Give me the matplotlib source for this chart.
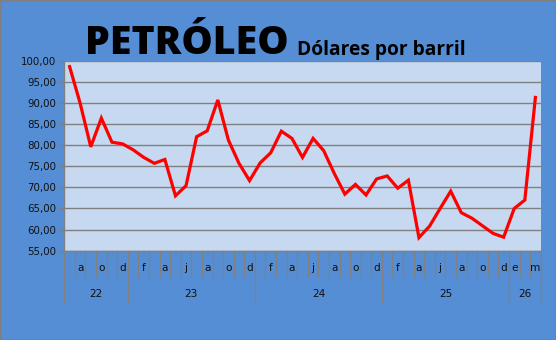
import matplotlib
matplotlib.use('AGG')
import matplotlib.pyplot as plt
from matplotlib.patches import Rectangle
from matplotlib.ticker import FuncFormatter, FixedLocator
import matplotlib.transforms as mtransforms

# Monthly values, Jul 2022 .. Mar 2026 (dollars per barrel)
prices = [98.6, 89.9, 79.6, 86.4, 80.7, 80.3,
          78.9, 77.1, 75.7, 76.6, 68.0, 70.4, 82.0, 83.4, 90.7, 81.2, 75.7, 71.6,
          75.8, 78.2, 83.3, 81.6, 77.1, 81.6, 78.7, 73.3, 68.4, 70.7, 68.2, 72.0, 72.7, 69.8,
          71.7, 58.1, 60.8, 65.0, 69.1, 64.0, 62.7, 60.9, 59.1, 58.2,
          65.0, 67.0, 91.3]

# Month letters as shown under the axis (blank = not shown)
month_labels = ['', 'a', '', 'o', '', 'd',
                '', 'f', '', 'a', '', 'j', '', 'a', '', 'o', '', 'd',
                '', 'f', '', 'a', '', 'j', '', 'a', '', 'o', '', 'd',
                '', 'f', '', 'a', '', 'j', '', 'a', '', 'o', '', 'd',
                'e', '', 'm']

years = ['22', '23', '24', '25', '26']
months_per_year = [6, 12, 12, 12, 3]

W, H = 556, 340
bg = '#558ED5'
plot_bg = '#C6D9F1'
grey = '#808080'

fig = plt.figure(figsize=(W / 100, H / 100), dpi=100, facecolor=bg)

# plot area in pixels
left, right, top, bottom = 64.3, 540.7, 60.7, 250.7
ax = fig.add_axes([left / W, (H - bottom) / H, (right - left) / W, (bottom - top) / H])
ax.set_facecolor(plot_bg)

x = list(range(len(prices)))
ax.plot(x, prices, color='#FF0000', lw=2.3, solid_joinstyle='miter', zorder=3)

ax.set_xlim(-0.5, len(prices) - 0.5)
ax.set_ylim(55, 100)
ax.set_yticks(range(55, 101, 5))
ax.yaxis.set_major_formatter(FuncFormatter(lambda v, p: f'{v:.2f}'.replace('.', ',')))
ax.grid(axis='y', color=grey, lw=1.0)
ax.set_axisbelow(True)

for s in ['top', 'right']:
    ax.spines[s].set_visible(False)
for s in ['left', 'bottom']:
    ax.spines[s].set_color(grey)
    ax.spines[s].set_linewidth(1.0)

ax.tick_params(axis='y', length=3.6, width=1.0, color=grey, labelsize=7.4,
               labelcolor='#111111', pad=2)

# month boundary ticks (short) and year boundary ticks (long)
bounds = [-0.5]
for n in months_per_year:
    bounds.append(bounds[-1] + n)
ax.xaxis.set_major_locator(FixedLocator(bounds))
ax.xaxis.set_minor_locator(FixedLocator([i - 0.5 for i in range(len(prices) + 1)]))
ax.tick_params(axis='x', which='major', length=52 * 0.72, width=1.0, color=grey,
               labelbottom=False)
ax.tick_params(axis='x', which='minor', length=26 * 0.72, width=1.0, color=grey,
               labelbottom=False)

trans = mtransforms.blended_transform_factory(ax.transData, ax.transAxes)
y_month = -(268.3 - bottom) / (bottom - top)
y_year = -(294 - bottom) / (bottom - top)
for i, lab in enumerate(month_labels):
    if lab:
        ax.text(i, y_month, lab, transform=trans, ha='center', va='center',
                fontsize=7.6, color='#111111')
for k, yr in enumerate(years):
    ax.text((bounds[k] + bounds[k + 1]) / 2, y_year, yr, transform=trans,
            ha='center', va='center', fontsize=7.6, color='#111111')

# title
fig.text(85 / W, (H - 53.5) / H, 'PETRÓLEO', fontsize=28.4, fontweight='heavy',
         family='Open Sans', va='baseline', ha='left', color='black')
fig.text(297 / W, (H - 54.5) / H, 'Dólares por barril', fontsize=13.8, fontweight='bold',
         family='Open Sans', va='baseline', ha='left', color='black')

# outer border
fig.patches.append(Rectangle((0, 0), 1, 1, transform=fig.transFigure, fill=False,
                             edgecolor=grey, lw=2))

fig.savefig('out.png', dpi=100, facecolor=bg)
